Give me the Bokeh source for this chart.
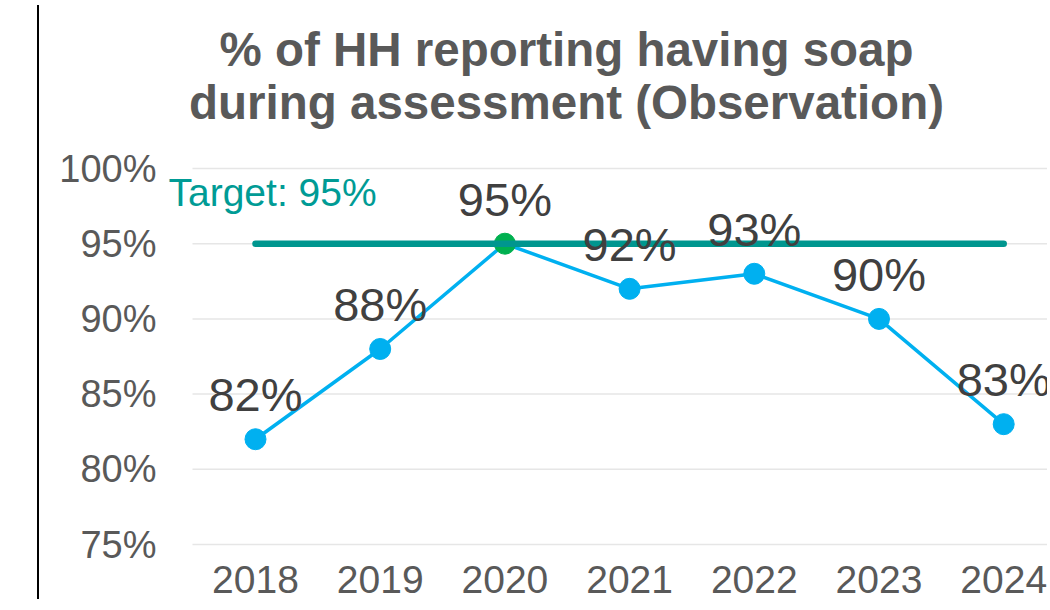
from bokeh.plotting import figure
from bokeh.models import (ColumnDataSource, FixedTicker, Label, LabelSet, Range1d, Div)
from bokeh.core.properties import value
from bokeh.layouts import row
from bokeh.embed import file_html
from bokeh.resources import INLINE

# ---- data ----
years = [2018, 2019, 2020, 2021, 2022, 2023, 2024]
values = [82, 88, 95, 92, 93, 90, 83]
point_colors = ["#00b0f0", "#00b0f0", "#00b050", "#00b0f0", "#00b0f0", "#00b0f0", "#00b0f0"]
target = 95
y_ticks = [75, 80, 85, 90, 95, 100]
title_lines = ["% of HH reporting having soap", "during assessment (Observation)"]

FONT = "Liberation Sans"

src = ColumnDataSource(dict(
    x=years, y=values, c=point_colors,
    lab=[f"{v}%" for v in values],
))

# pixel scale of the chart
PX_X = 124.7   # px per year
PX_Y = 15.04   # px per percentage point
FRAME_L = 164  # page x of frame left
FIG_W = 1003
FIG_L = 44
x0 = years[0] - (255 - FRAME_L) / PX_X
x1 = x0 + (FIG_L + FIG_W - FRAME_L) / PX_X
y1 = y_ticks[-1] + 168 / PX_Y
y0 = y1 - 552 / PX_Y
grid_x0 = years[0] - 63 / PX_X

p = figure(width=FIG_W, height=602, output_backend="svg", toolbar_location=None,
           x_range=Range1d(x0, x1), y_range=Range1d(y0, y1),
           min_border_left=FRAME_L - FIG_L, min_border_right=0, min_border_top=0,
           min_border_bottom=50)
p.outline_line_color = None
p.background_fill_color = "white"
p.border_fill_color = "white"

# axes
p.xaxis.ticker = FixedTicker(ticks=years)
p.xaxis.axis_line_color = None
p.xaxis.major_tick_line_color = None
p.xaxis.minor_tick_line_color = None
p.xaxis.major_label_text_font = FONT
p.xaxis.major_label_text_font_size = "39px"
p.xaxis.major_label_text_color = "#595959"
p.xaxis.major_label_standoff = 7

p.yaxis.ticker = FixedTicker(ticks=y_ticks)
p.yaxis.major_label_overrides = {t: f"{t}%" for t in y_ticks}
p.yaxis.axis_line_color = None
p.yaxis.major_tick_line_color = None
p.yaxis.minor_tick_line_color = None
p.yaxis.major_label_text_font = FONT
p.yaxis.major_label_text_font_size = "38px"
p.yaxis.major_label_text_color = "#595959"
p.yaxis.major_label_standoff = 2

p.xgrid.grid_line_color = None
p.ygrid.grid_line_color = None

# horizontal gridlines
p.segment(x0=[grid_x0] * len(y_ticks), y0=y_ticks, x1=[x1] * len(y_ticks), y1=y_ticks,
          line_color="#e6e6e6", line_width=1.5)

# series
p.line("x", "y", source=src, line_color="#00b0f0", line_width=3.5)
p.scatter("x", "y", source=src, size=21, fill_color="c", line_color="c")

# target line
p.line([years[0], years[-1]], [target, target], line_color="#00968f",
       line_width=6.5, line_cap="round")

# data labels
p.add_layout(LabelSet(x="x", y="y", text="lab", source=src, text_align="center",
                      text_baseline="alphabetic", y_offset=28,
                      text_font=value(FONT), text_font_size=value("47px"),
                      text_color="#404040"))

# target label
p.add_layout(Label(x=x0 + (168 - FRAME_L) / PX_X, y=y1 - 192 / PX_Y, text=f"Target: {target}%",
                   text_align="left", text_baseline="middle",
                   text_font=FONT, text_font_size="39px", text_color="#009b95"))

# title lines
tx = x0 + (566 - FRAME_L) / PX_X
for i, line in enumerate(title_lines):
    ty = y1 - (49 + 53 * i) / PX_Y
    p.add_layout(Label(x=tx, y=ty, text=line, text_align="center", text_baseline="middle",
                       text_font=FONT, text_font_size="47.5px", text_font_style="bold",
                       text_color="#595959"))

edge = Div(text="", width=34, height=594,
           styles={"border-right": "2px solid #000000", "box-sizing": "border-box",
                   "height": "594px"})

layout = row(edge, p, spacing=0)

open("out.html", "w").write(file_html(layout, INLINE))
